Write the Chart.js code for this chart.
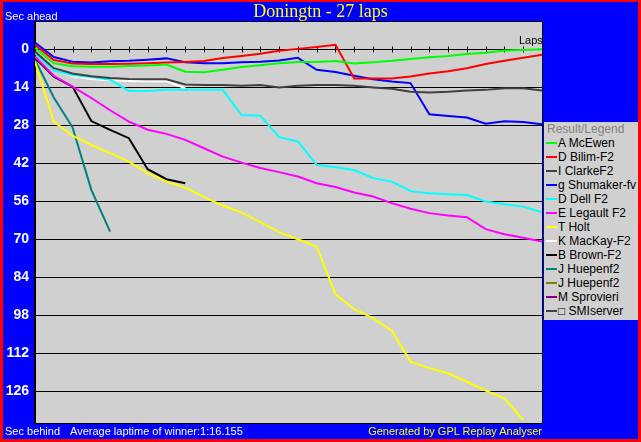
<!DOCTYPE html>
<html>
<head>
<meta charset="utf-8">
<script src="https://cdn.jsdelivr.net/npm/chart.js@4.4.1/dist/chart.umd.min.js"></script>
<style>
html,body{margin:0;padding:0;background:#f00;}
#wrap{position:relative;width:641px;height:442px;overflow:hidden;}
#c{position:absolute;left:0;top:0;}
.t{position:absolute;white-space:nowrap;font-family:"Liberation Sans",Arial,sans-serif;font-size:11px;line-height:13px;}
#title{position:absolute;left:0;width:641px;top:0;text-align:center;font-family:"Liberation Serif","Times New Roman",serif;font-size:18px;line-height:22px;color:#ff0;}
#legend{position:absolute;left:544px;top:122px;width:94px;height:198px;background:#d0d0d0;font-family:"Liberation Sans",Arial,sans-serif;font-size:12px;}
#legend .row{position:relative;height:14px;line-height:14px;white-space:nowrap;}
#legend .hd{color:#808080;padding-left:3px;}
#legend .ln{position:absolute;left:2px;top:6px;width:11px;height:2px;}
#legend .tx{position:absolute;left:14px;top:0;color:#000;}
</style>
</head>
<body>
<div id="wrap">
  <canvas id="c" width="641" height="442"></canvas>
  <div id="title">Doningtn - 27 laps</div>
  <div class="t" style="left:5px;top:10px;color:#fff;">Sec ahead</div>
  <div class="t" style="left:519px;top:34px;color:#000;">Laps</div>
  <div class="t" style="left:5px;top:425px;color:#fff;">Sec behind</div>
  <div class="t" style="left:70px;top:425px;color:#fff;">Average laptime of winner:1:16.155</div>
  <div class="t" style="right:99px;top:425px;color:#ff0;">Generated by GPL Replay Analyser</div>
  <div id="legend"></div>
</div>
<script>
const laps = [0,1,2,3,4,5,6,7,8,9,10,11,12,13,14,15,16,17,18,19,20,21,22,23,24,25,26,27];
const yTicks = [0,14,28,42,56,70,84,98,112,126];
const lapTicks = [1,2,3,4,5,6,7,8,9,10,11,12,13,14,15,16,17,18,19,20,21,22,23,24,25,26];

const names = ['A McEwen','D Bilim-F2','I ClarkeF2','g Shumaker-fv','D Dell F2','E Legault F2','T Holt','K MacKay-F2','B Brown-F2','J Huepenf2','J Huepenf2','M Sprovieri','\u25A1 SMIserver'];

const mcEwen   = [-0.4, 5.2, 6.3, 6.5, 6.5, 6.2, 6.0, 5.7, 8.3, 8.5, 7.6, 6.6, 5.9, 5.2, 4.7, 4.7, 4.4, 5.3, 4.8, 4.3, 3.6, 3.0, 2.5, 1.8, 1.3, 0.5, 0.3, 0.0];
const bilim    = [-1.5, 4.0, 5.3, 5.5, 5.5, 5.4, 5.2, 4.9, 4.7, 4.4, 3.3, 2.5, 1.7, 0.6, -0.1, -0.8, -1.6, 10.8, 10.8, 10.8, 10.1, 9.0, 8.1, 7.0, 5.5, 4.3, 3.2, 2.1];
const clarke   = [0.9, 7.0, 9.0, 10.0, 10.6, 11.0, 11.1, 11.1, 13.0, 13.2, 13.2, 13.5, 13.2, 14.1, 13.5, 13.2, 13.2, 13.5, 14.1, 14.6, 15.7, 16.0, 15.7, 15.2, 15.0, 14.4, 14.4, 15.2];
const shumaker = [-2.4, 2.9, 4.6, 4.9, 4.5, 4.3, 3.9, 3.4, 4.8, 5.2, 5.2, 4.8, 4.6, 4.2, 3.2, 7.6, 8.4, 9.8, 11.1, 11.9, 12.5, 24.0, 24.6, 25.2, 27.5, 26.6, 26.8, 27.7];
const dell     = [1.5, 7.9, 9.5, 10.3, 11.3, 15.4, 15.4, 15.0, 15.0, 15.0, 15.0, 24.3, 24.5, 32.4, 34.0, 42.6, 43.5, 44.5, 47.5, 48.8, 52.3, 53.1, 53.4, 53.7, 56.1, 57.1, 58.0, 60.1];
const legault  = [2.7, 9.8, 13.8, 18.0, 22.5, 26.7, 29.7, 31.2, 33.4, 36.5, 39.6, 41.8, 43.8, 45.3, 46.9, 49.4, 50.8, 52.8, 54.3, 56.7, 58.8, 60.4, 61.3, 61.9, 66.3, 68.2, 69.5, 70.9];
const holt     = [4.6, 26.7, 31.9, 35.3, 38.3, 41.4, 45.7, 48.8, 51.0, 54.5, 57.6, 60.2, 63.7, 67.4, 70.0, 72.7, 90.2, 95.8, 99.1, 103.7, 115.1, 117.5, 119.4, 122.5, 125.8, 128.6, 136.6];
const mackay   = [1.2, 7.5, 10.0, 11.0, 11.5, 11.7, 11.8, 11.8, 14.4];
const brown    = [3.2, 10.1, 13.8, 26.5, 29.7, 32.8, 44.2, 47.9, 49.4];
const huepenfA = [3.9, 17.8, 28.8, 51.8, 67.2];
const huepenfB = [];
const sprovieri = [];
const smiserver = [];

const series = [mcEwen, bilim, clarke, shumaker, dell, legault, holt, mackay, brown, huepenfA, huepenfB, sprovieri, smiserver];
const colors = ['#00ff00','#ff0000','#404040','#0000ff','#00ffff','#ff00ff','#ffff00','#ffffff','#000000','#008080','#808000','#800080','#404040'];

const datasets = names.map((n, i) => ({
  label: n,
  data: series[i],
  borderColor: colors[i],
  backgroundColor: colors[i],
  borderWidth: 2,
  pointRadius: 0,
  tension: 0,
  fill: false
}));

const framePlugin = {
  id: 'frame',
  beforeDraw(chart) {
    const ctx = chart.ctx, a = chart.chartArea;
    ctx.save();
    ctx.fillStyle = '#ff0000';
    ctx.fillRect(0, 0, chart.width, chart.height);
    ctx.fillStyle = '#0000ff';
    ctx.fillRect(3, 2, chart.width - 6, chart.height - 5);
    ctx.fillStyle = '#d0d0d0';
    ctx.fillRect(a.left, a.top, a.right - a.left, a.bottom - a.top);
    ctx.restore();
  },
  beforeDatasetsDraw(chart) {
    const ctx = chart.ctx, xs = chart.scales.x, ys = chart.scales.y;
    const y0 = Math.round(ys.getPixelForValue(0)) + 0.5;
    ctx.save();
    ctx.strokeStyle = '#000';
    ctx.lineWidth = 1;
    ctx.beginPath();
    lapTicks.forEach(l => {
      const x = Math.round(xs.getPixelForValue(l)) + 0.5;
      ctx.moveTo(x, y0 - 3);
      ctx.lineTo(x, y0 + 3);
    });
    ctx.stroke();
    ctx.restore();
  },
  afterDraw(chart) {
    const ctx = chart.ctx, a = chart.chartArea;
    ctx.save();
    ctx.strokeStyle = '#000';
    ctx.lineWidth = 1;
    ctx.strokeRect(Math.round(a.left) - 0.5, Math.round(a.top) - 0.5, Math.round(a.right - a.left) + 1, Math.round(a.bottom - a.top) + 1);
    ctx.restore();
  }
};

new Chart(document.getElementById('c'), {
  type: 'line',
  data: { labels: laps, datasets: datasets },
  options: {
    responsive: false,
    animation: false,
    devicePixelRatio: 1,
    layout: { padding: { left: 0, right: 99, top: 22, bottom: 19 } },
    plugins: { legend: { display: false }, title: { display: false }, tooltip: { enabled: false } },
    scales: {
      x: { type: 'linear', min: 0, max: 27, display: false },
      y: {
        type: 'linear', reverse: true, min: -10, max: 137.7,
        afterBuildTicks: s => { s.ticks = yTicks.map(v => ({ value: v })); },
        afterFit: s => { s.width = 35; },
        border: { display: true, color: '#000', width: 1 },
        grid: { color: '#000', lineWidth: 1, tickLength: 4, drawTicks: true },
        ticks: { color: '#ffffff', padding: 2, font: { family: 'Liberation Sans', size: 14, weight: 'bold' } }
      }
    }
  },
  plugins: [framePlugin]
});

const lg = document.getElementById('legend');
const hd = document.createElement('div');
hd.className = 'row hd';
hd.textContent = 'Result/Legend';
lg.appendChild(hd);
names.forEach((n, i) => {
  const r = document.createElement('div');
  r.className = 'row';
  const ln = document.createElement('span');
  ln.className = 'ln';
  ln.style.background = colors[i];
  const tx = document.createElement('span');
  tx.className = 'tx';
  tx.textContent = n;
  r.appendChild(ln); r.appendChild(tx);
  lg.appendChild(r);
});
</script>
</body>
</html>
